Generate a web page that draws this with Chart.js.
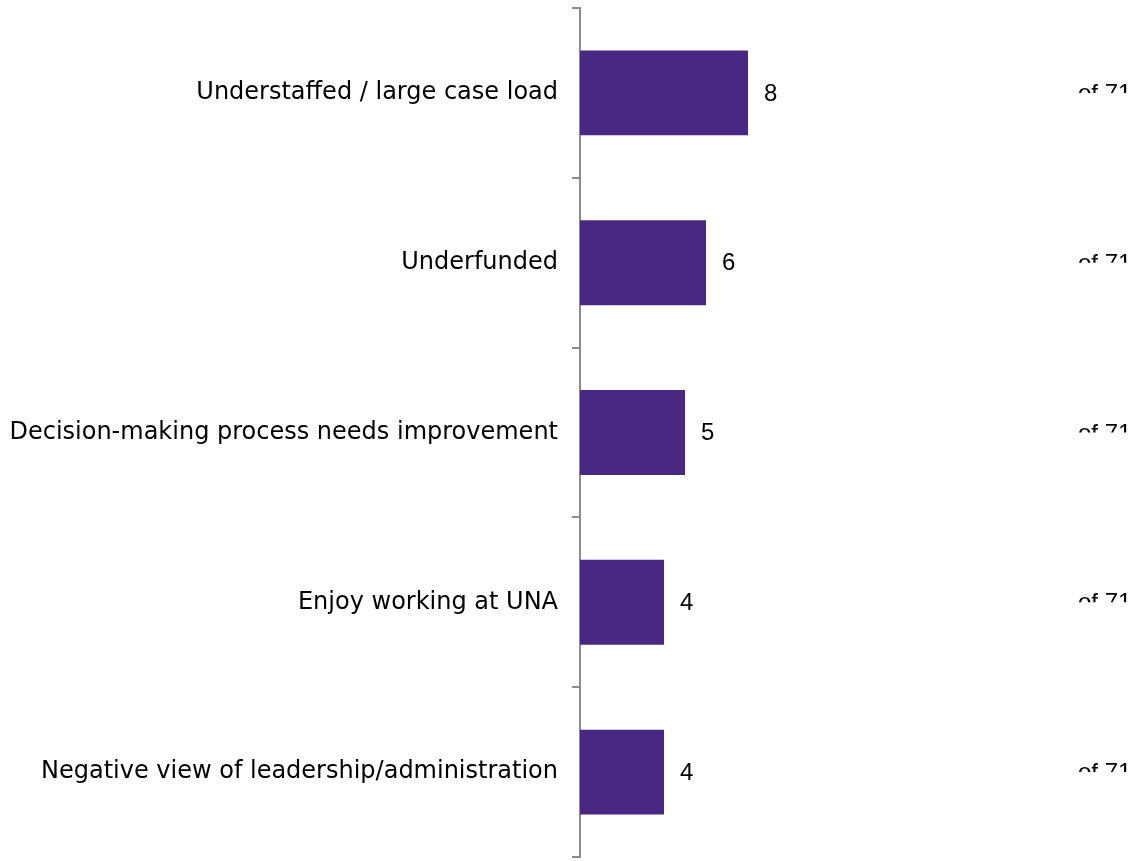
<!DOCTYPE html>
<html>
<head>
<meta charset="utf-8">
<script src="https://cdn.jsdelivr.net/npm/chart.js@4"></script>
<style>
  html, body { margin: 0; padding: 0; background: #ffffff; }
  #wrap { width: 1148px; height: 861px; position: relative; }
</style>
</head>
<body>
<div id="wrap"><canvas id="c" width="1148" height="861"></canvas></div>
<script>
const categories = [
  "Understaffed / large case load",
  "Underfunded",
  "Decision-making process needs improvement",
  "Enjoy working at UNA",
  "Negative view of leadership/administration"
];
const counts = [8, 6, 5, 4, 4];
const totalLabel = "of 71";

const barColor = "#482882";

const valueLabels = {
  id: "valueLabels",
  afterDatasetsDraw(chart) {
    const ctx = chart.ctx;
    const meta = chart.getDatasetMeta(0);
    ctx.save();
    ctx.fillStyle = "#000000";
    ctx.font = "24px 'Liberation Sans', Arial, sans-serif";
    ctx.textBaseline = "middle";
    ctx.textAlign = "left";
    meta.data.forEach((bar, i) => {
      ctx.fillText(String(counts[i]), bar.x + 16, bar.y + 1);
    });
    // partially clipped "of 71" labels on the right
    meta.data.forEach((bar) => {
      ctx.save();
      ctx.beginPath();
      ctx.rect(1060, bar.y - 20, 88, 20);
      ctx.clip();
      ctx.font = "24px 'Liberation Sans', Arial, sans-serif";
      ctx.textBaseline = "alphabetic";
      ctx.fillText(totalLabel, 1078, bar.y + 8);
      ctx.restore();
    });
    ctx.restore();
  }
};

new Chart(document.getElementById("c"), {
  type: "bar",
  data: {
    labels: categories,
    datasets: [{
      data: counts,
      backgroundColor: barColor,
      borderWidth: 0,
      categoryPercentage: 0.5,
      barPercentage: 1.0
    }]
  },
  options: {
    indexAxis: "y",
    responsive: false,
    animation: false,
    layout: { padding: { top: 8, bottom: 4, left: 0, right: 43 } },
    plugins: {
      legend: { display: false },
      tooltip: { enabled: false }
    },
    scales: {
      x: {
        display: false,
        min: 0,
        max: 25
      },
      y: {
        offset: true,
        afterFit(scale) {
          scale.width = 580;
          scale.paddingTop = 0;
          scale.paddingBottom = 0;
        },
        border: { display: true, color: "#8c8c8c", width: 2 },
        grid: {
          offset: true,
          drawOnChartArea: false,
          drawTicks: true,
          tickLength: 8,
          color: "#8c8c8c",
          lineWidth: 2
        },
        ticks: {
          color: "#000000",
          padding: 14,
          font: { family: "'DejaVu Sans', sans-serif", size: 24 }
        }
      }
    }
  },
  plugins: [valueLabels]
});
</script>
</body>
</html>
